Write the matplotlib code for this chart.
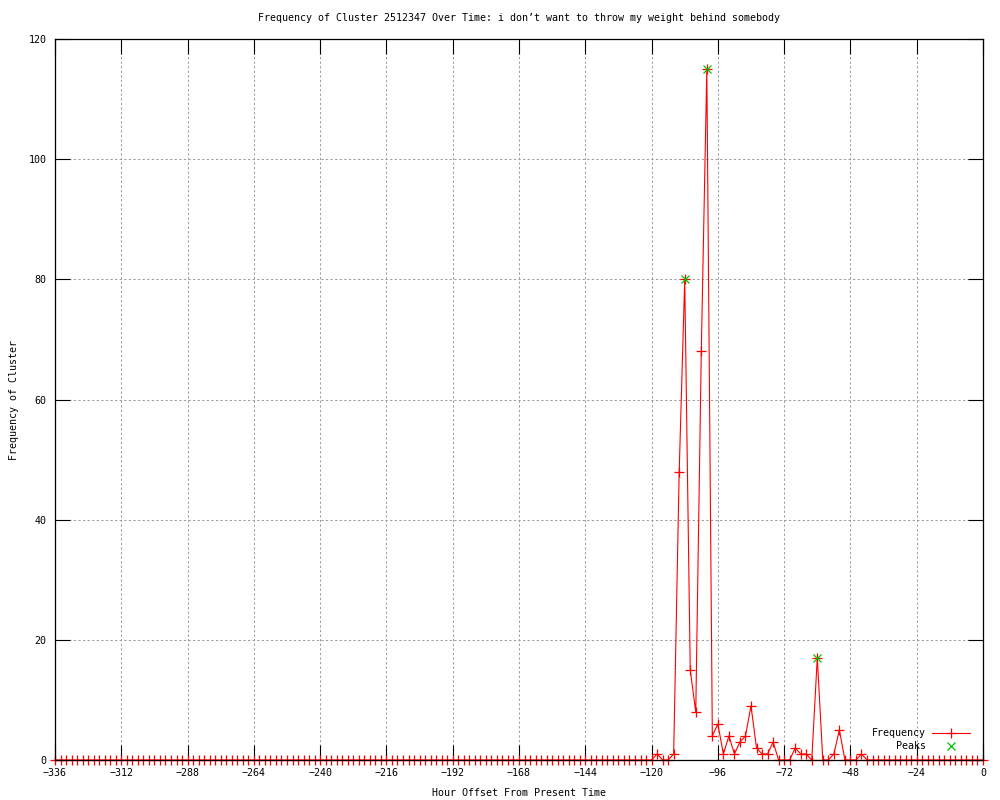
import numpy as np
import matplotlib
matplotlib.use("Agg")
import matplotlib.pyplot as plt

plt.rcParams['font.family'] = ['DejaVu Sans Mono']
plt.rcParams['font.size'] = 7.2

# hours sampled every 2 hours over the last two weeks
hours = np.arange(-336, 1, 2)

# non-zero counts (all other hours are 0)
nz_hours = [-118, -112, -110, -108, -106, -104, -102, -100, -98, -96, -94, -92,
            -90, -88, -86, -84, -82, -80, -78, -76, -68, -66, -64, -60, -54, -52, -44]
nz_counts = [1, 1, 48, 80, 15, 8, 68, 115, 4, 6, 1, 4,
             1, 3, 4, 9, 2, 1, 1, 3, 2, 1, 1, 17, 1, 5, 1]

peak_hours = [-108, -100, -60]
peak_counts = [80, 115, 17]

freq = np.zeros(len(hours))
for h, c in zip(nz_hours, nz_counts):
    freq[hours == h] = c

fig = plt.figure(figsize=(10, 8), dpi=100)
ax = fig.add_axes([0.055, 0.05, 0.928, 0.90125])

ax.plot(hours, freq, color='red', lw=0.8, marker='+', ms=7, mew=0.9,
        label='Frequency', clip_on=False)
ax.plot(peak_hours, peak_counts, ls='none', color='#00c000', marker='x', ms=5.5,
        mew=0.9, label='Peaks', clip_on=False)

ax.set_xlim(-336, 0)
ax.set_ylim(0, 120)
ax.set_xticks(np.arange(-336, 1, 24))
ax.set_yticks(np.arange(0, 121, 20))

ax.grid(True, color='#a0a0a0', ls=(0, (2.2, 2.2)), lw=0.75)
ax.tick_params(direction='in', length=11, width=0.8, top=True, right=True,
               pad=6, labelsize=7.2)
for s in ax.spines.values():
    s.set_linewidth(0.9)
    s.set_zorder(3)

ax.set_title("Frequency of Cluster 2512347 Over Time: i don\u2019t want to throw my weight behind somebody",
             fontsize=7.2, pad=13)
ax.set_xlabel("Hour Offset From Present Time", labelpad=7)
ax.set_ylabel("Frequency of Cluster")
ax.yaxis.set_label_coords(-0.039, 0.5)

ax.legend(loc='lower right', bbox_to_anchor=(0.975, 0.055), bbox_transform=fig.transFigure,
          frameon=False, markerfirst=False, handlelength=3.8, handletextpad=0.6,
          labelspacing=0.25, borderpad=0, fontsize=7.2)

fig.savefig('out.png', dpi=100)
